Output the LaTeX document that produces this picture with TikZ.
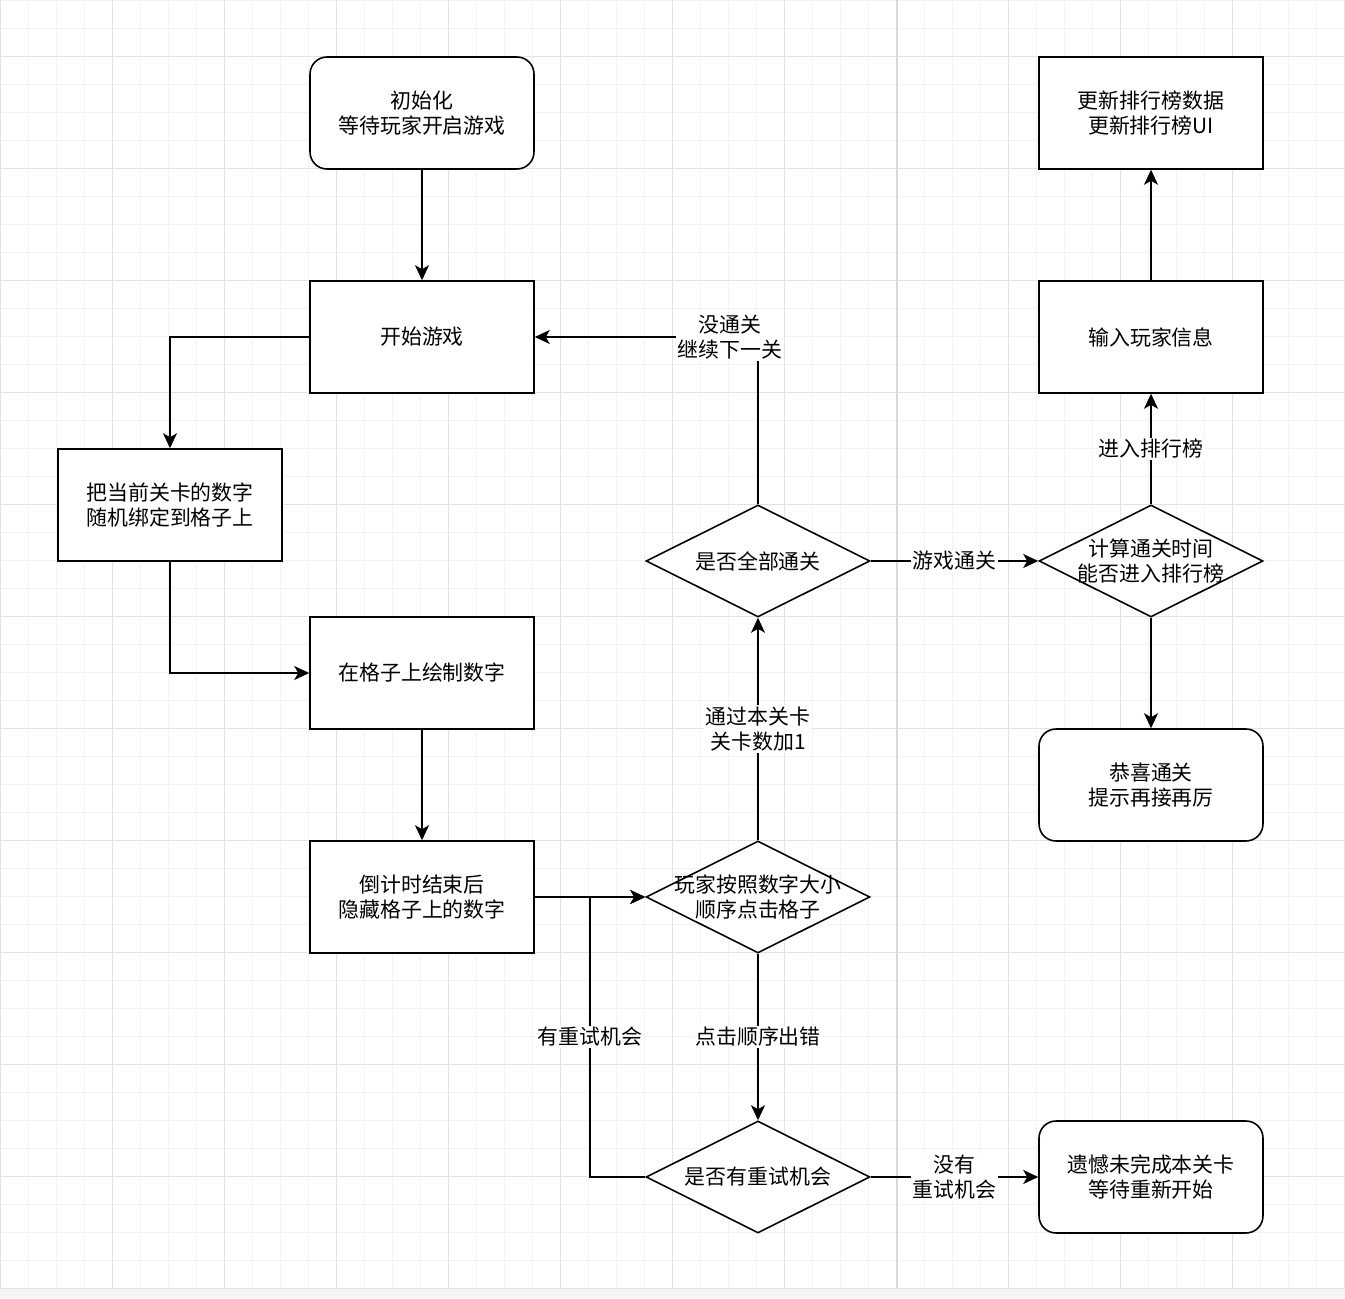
\documentclass[tikz,border=0pt]{standalone}
\usepackage{fontspec}
\setmainfont{Noto Sans CJK SC}
\usetikzlibrary{arrows.meta,shapes.geometric,positioning}

\definecolor{gridminor}{HTML}{F2F2F2}
\definecolor{gridmajor}{HTML}{E2E2E2}
\definecolor{pagebreak}{HTML}{D9D9D9}
\definecolor{canvasedge}{HTML}{F4F4F4}

\begin{document}
\begin{tikzpicture}[x=0.02cm,y=-0.02cm,
	txt/.style={align=center,font=\fontsize{11.9}{14.2}\selectfont},
	box/.style={txt,draw,fill=white,line width=0.9pt,minimum width=4.48cm,minimum height=2.24cm},
	roundbox/.style={box,rounded corners=0.34cm},
	decision/.style={draw,fill=white,line width=0.9pt,diamond,aspect=2,minimum width=4.48cm,minimum height=2.24cm,inner sep=0pt},
	line/.style={line width=0.9pt,-{Stealth[length=0.3cm,width=0.28cm,inset=0.08cm]}},
	edgelabel/.style={txt,fill=white,inner sep=1pt}]
	\useasboundingbox (0,0) rectangle (1345,1298);
	
	% Canvas with grid
	\fill[canvasedge] (0,1288) rectangle (1345,1298);
	\foreach \i in {0,...,48} {
		\draw[gridminor,line width=0.02cm] (\i*28.02,0) -- (\i*28.02,1288);
	}
	\foreach \j in {0,...,46} {
		\draw[gridminor,line width=0.02cm] (0,\j*28) -- (1345,\j*28);
	}
	\foreach \i in {0,...,12} {
		\draw[gridmajor,line width=0.02cm] (\i*112.08,0) -- (\i*112.08,1288);
	}
	\foreach \j in {0,...,11} {
		\draw[gridmajor,line width=0.02cm] (0,56+\j*112) -- (1345,56+\j*112);
	}
	\draw[pagebreak,line width=0.03cm] (897,0) -- (897,1288); % page break
	
	% Left column
	\node[roundbox] (init) at (422,113) {初始化\\等待玩家开启游戏};
	\node[box] (start) at (422,337) {开始游戏};
	\node[box] (bind) at (170,505) {把当前关卡的数字\\随机绑定到格子上};
	\node[box] (drawnum) at (422,673) {在格子上绘制数字};
	\node[box] (hide) at (422,897) {倒计时结束后\\隐藏格子上的数字};
	
	% Decisions
	\node[decision,label={[txt]center:{玩家按照数字大小\\顺序点击格子}}] (play) at (758,897) {};
	\node[decision,label={[txt]center:{是否全部通关}}] (allpass) at (758,561) {};
	\node[decision,label={[txt]center:{是否有重试机会}}] (retry) at (758,1177) {};
	\node[decision,label={[txt]center:{计算通关时间\\能否进入排行榜}}] (rank) at (1151,561) {};
	
	% Right column
	\node[box] (info) at (1151,337) {输入玩家信息};
	\node[box] (update) at (1151,113) {更新排行榜数据\\更新排行榜UI};
	\node[roundbox] (congrats) at (1151,785) {恭喜通关\\提示再接再厉};
	\node[roundbox] (fail) at (1151,1177) {遗憾未完成本关卡\\等待重新开始};
	
	\coordinate (join) at (590,897);
	
	% Connectors
	\draw[line] (init) -- (start);
	\draw[line] (start.west) -| (bind.north);
	\draw[line] (bind.south) |- (drawnum.west);
	\draw[line] (drawnum) -- (hide);
	\draw[line] (hide.east) -- (play.west);
	\draw[line] (play.south) -- node[edgelabel] {点击顺序出错} (retry.north);
	\draw[line] (retry.west) -| node[edgelabel,pos=0.75] {有重试机会} (join) -- (play.west);
	\draw[line] (play.north) -- node[edgelabel] {通过本关卡\\关卡数加1} (allpass.south);
	\draw[line] (allpass.north) |- node[edgelabel,pos=0.5625] {没通关\\继续下一关} (start.east);
	\draw[line] (allpass.east) -- node[edgelabel] {游戏通关} (rank.west);
	\draw[line] (rank.north) -- node[edgelabel] {进入排行榜} (info.south);
	\draw[line] (info) -- (update);
	\draw[line] (rank.south) -- (congrats.north);
	\draw[line] (retry.east) -- node[edgelabel] {没有\\重试机会} (fail.west);
\end{tikzpicture}
\end{document}
